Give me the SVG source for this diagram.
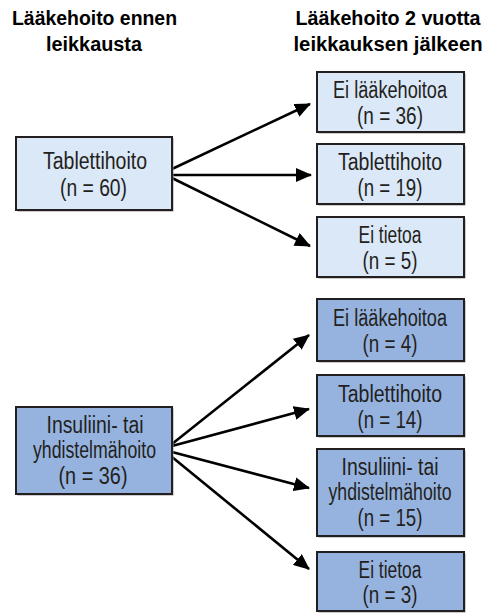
<svg xmlns="http://www.w3.org/2000/svg" width="489" height="613" viewBox="0 0 489 613">
<style>
.bg{fill:#ffffff}
.box{stroke:#231f20;stroke-width:2}
.lt{fill:#dbe8f7}
.dk{fill:#95b3de}
.sh{fill:#9a9a9a}
.t{font-family:"Liberation Sans",Arial,sans-serif;font-size:23px;fill:#231f20;text-anchor:middle}
.h{font-family:"Liberation Sans",Arial,sans-serif;font-size:20px;font-weight:bold;fill:#000;text-anchor:middle}
.c{stroke:#000;stroke-width:2.6;fill:none;marker-end:url(#ah)}
</style>
<defs>
<marker id="ah" markerUnits="userSpaceOnUse" markerWidth="18" markerHeight="14" refX="15" refY="7" orient="auto">
<path d="M0,0 L16,7 L0,14 Z" fill="#000"/>
</marker>
</defs>
<rect class="bg" x="0" y="0" width="489" height="613"/>
<g id="headers">
<text class="h" x="94.5" y="25" textLength="165" lengthAdjust="spacingAndGlyphs">Lääkehoito ennen</text>
<text class="h" x="94" y="51" textLength="96" lengthAdjust="spacingAndGlyphs">leikkausta</text>
<text class="h" x="388" y="25" textLength="185" lengthAdjust="spacingAndGlyphs">Lääkehoito 2 vuotta</text>
<text class="h" x="388" y="51" textLength="189" lengthAdjust="spacingAndGlyphs">leikkauksen jälkeen</text>
</g>
<g id="connectors">
<line class="c" x1="172" y1="169" x2="310" y2="104"/>
<line class="c" x1="172" y1="175" x2="311" y2="175"/>
<line class="c" x1="172" y1="178" x2="310" y2="246"/>
<line class="c" x1="172" y1="444" x2="309" y2="335"/>
<line class="c" x1="172" y1="446" x2="309" y2="409"/>
<line class="c" x1="172" y1="452" x2="309" y2="488"/>
<line class="c" x1="172" y1="457" x2="309" y2="569"/>
</g>
<g id="left1">
<rect class="sh" x="17.5" y="138.5" width="156" height="73"/>
<rect class="box lt" x="16" y="137" width="156" height="73"/>
<text class="t" x="95" y="168.5" textLength="104" lengthAdjust="spacingAndGlyphs">Tablettihoito</text>
<text class="t" x="93.5" y="196" textLength="67" lengthAdjust="spacingAndGlyphs">(n = 60)</text>
</g>
<g id="left2">
<rect class="sh" x="17.5" y="408.5" width="156" height="87"/>
<rect class="box dk" x="16" y="407" width="156" height="87"/>
<text class="t" x="95" y="433" textLength="97" lengthAdjust="spacingAndGlyphs">Insuliini- tai</text>
<text class="t" x="94.5" y="458" textLength="123" lengthAdjust="spacingAndGlyphs">yhdistelmähoito</text>
<text class="t" x="93" y="484" textLength="69" lengthAdjust="spacingAndGlyphs">(n = 36)</text>
</g>
<g id="r1">
<rect class="sh" x="318.5" y="73.5" width="147" height="60"/>
<rect class="box lt" x="317" y="72" width="147" height="60"/>
<text class="t" x="390" y="98" textLength="114" lengthAdjust="spacingAndGlyphs">Ei lääkehoitoa</text>
<text class="t" x="390" y="124" textLength="66" lengthAdjust="spacingAndGlyphs">(n = 36)</text>
</g>
<g id="r2">
<rect class="sh" x="318.5" y="145.5" width="147" height="60"/>
<rect class="box lt" x="317" y="144" width="147" height="60"/>
<text class="t" x="390" y="170" textLength="104" lengthAdjust="spacingAndGlyphs">Tablettihoito</text>
<text class="t" x="390" y="196" textLength="65" lengthAdjust="spacingAndGlyphs">(n = 19)</text>
</g>
<g id="r3">
<rect class="sh" x="318.5" y="218.5" width="147" height="60"/>
<rect class="box lt" x="317" y="217" width="147" height="60"/>
<text class="t" x="390" y="243" textLength="63" lengthAdjust="spacingAndGlyphs">Ei tietoa</text>
<text class="t" x="390" y="269" textLength="55" lengthAdjust="spacingAndGlyphs">(n = 5)</text>
</g>
<g id="r4">
<rect class="sh" x="318.5" y="300.5" width="147" height="62"/>
<rect class="box dk" x="317" y="299" width="147" height="62"/>
<text class="t" x="390" y="326" textLength="114" lengthAdjust="spacingAndGlyphs">Ei lääkehoitoa</text>
<text class="t" x="390" y="352" textLength="55" lengthAdjust="spacingAndGlyphs">(n = 4)</text>
</g>
<g id="r5">
<rect class="sh" x="318.5" y="376.5" width="147" height="61"/>
<rect class="box dk" x="317" y="375" width="147" height="61"/>
<text class="t" x="390" y="401.5" textLength="104" lengthAdjust="spacingAndGlyphs">Tablettihoito</text>
<text class="t" x="390" y="427.5" textLength="65" lengthAdjust="spacingAndGlyphs">(n = 14)</text>
</g>
<g id="r6">
<rect class="sh" x="318.5" y="450.5" width="147" height="87"/>
<rect class="box dk" x="317" y="449" width="147" height="87"/>
<text class="t" x="390" y="475" textLength="97" lengthAdjust="spacingAndGlyphs">Insuliini- tai</text>
<text class="t" x="390" y="500" textLength="123" lengthAdjust="spacingAndGlyphs">yhdistelmähoito</text>
<text class="t" x="390" y="526" textLength="65" lengthAdjust="spacingAndGlyphs">(n = 15)</text>
</g>
<g id="r7">
<rect class="sh" x="318.5" y="553.5" width="147" height="59"/>
<rect class="box dk" x="317" y="552" width="147" height="59"/>
<text class="t" x="390" y="577.5" textLength="63" lengthAdjust="spacingAndGlyphs">Ei tietoa</text>
<text class="t" x="390" y="603" textLength="55" lengthAdjust="spacingAndGlyphs">(n = 3)</text>
</g>
</svg>
